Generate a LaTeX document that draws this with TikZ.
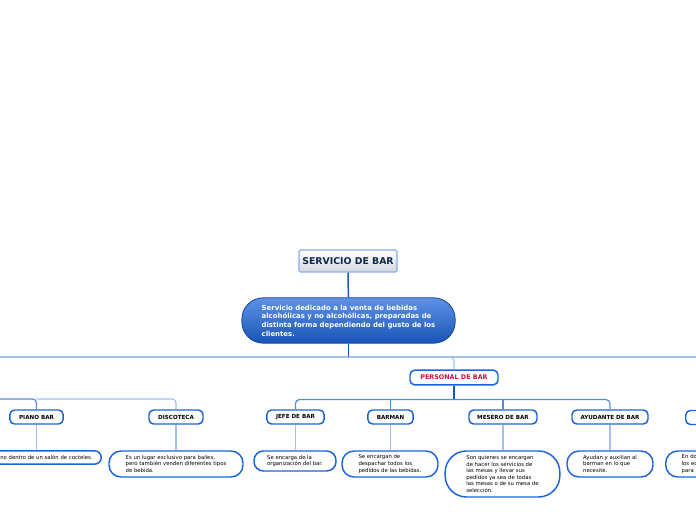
\documentclass[tikz,border=0pt]{standalone}
\usepackage{fontspec}
\setmainfont{DejaVu Sans}
\usepackage{tikz}
\usetikzlibrary{positioning}
\definecolor{mapblue}{RGB}{27,99,216}
\definecolor{mapdark}{RGB}{20,86,200}
\definecolor{maplight}{RGB}{160,192,238}
\definecolor{mapmid}{RGB}{80,140,225}
\definecolor{navy}{RGB}{15,40,75}
\definecolor{mapred}{RGB}{208,16,58}

\begin{document}
\begin{tikzpicture}[x=.75pt,y=-.75pt,
titlebox/.style={draw=maplight!80!mapblue,line width=.8pt,top color=white,bottom color=maplight!45!gray!40,text=navy,font=\fontsize{7}{8}\selectfont\bfseries,minimum width=73.5pt,minimum height=16.5pt,inner sep=1pt,rounded corners=1pt},
mainbox/.style={draw=mapdark!80!black,line width=.6pt,top color=mapblue!70!white,bottom color=mapblue!85!black,text=white,align=left,font=\fontsize{5.2}{6.5}\selectfont\bfseries,minimum width=160pt,minimum height=34pt,inner sep=1pt,rounded corners=16pt},
catbox/.style={draw=mapblue,line width=1.1pt,fill=white,font=\fontsize{4.2}{5}\selectfont\bfseries,minimum height=10.5pt,inner sep=1pt,rounded corners=3.5pt},
descbox/.style={draw=mapblue,line width=1.1pt,fill=white,align=left,font=\fontsize{4}{4.9}\selectfont,inner sep=2pt,rounded corners=7pt},
dark/.style={draw=mapdark,line width=1.1pt},
mid/.style={draw=mapmid,line width=.9pt,rounded corners=3pt},
light/.style={draw=maplight,line width=.8pt,rounded corners=3pt}]

\useasboundingbox (0,0) rectangle (696,520);
\clip (0,0) rectangle (696,520);

% centro del mapa
\node[titlebox] (servicio) at (348,261) {SERVICIO DE BAR};
\node[mainbox] (definicion) at (348.5,320.5) {Servicio dedicado a la venta de bebidas\\alcohólicas y no alcohólicas, preparadas de\\distinta forma dependiendo del gusto de los\\clientes.};
\draw[dark] (servicio) -- (definicion);

\coordinate (hub) at (348.5,357);
\coordinate (oeste) at (0,357);
\coordinate (este) at (696,357);

% personal de bar
\node[catbox,text=mapred,font=\fontsize{4.8}{5.5}\selectfont\bfseries,minimum width=66pt,minimum height=11pt] (personal) at (454,377.5) {PERSONAL DE BAR};
\node[catbox,minimum width=43pt] (jefe) at (295.5,417) {JEFE DE BAR};
\node[catbox,minimum width=34pt] (barman) at (390.5,417) {BARMAN};
\node[catbox,minimum width=51pt] (mesero) at (503,417) {MESERO DE BAR};
\node[catbox,minimum width=57pt] (ayudante) at (610,417) {AYUDANTE DE BAR};

\node[descbox,minimum width=61.5pt,minimum height=15pt] (jefetxt) at (295,461) {Se encarga de la\\organización del bar.};
\node[descbox,minimum width=72pt,minimum height=19.5pt,rounded corners=9pt] (barmantxt) at (390,464) {Se encargan de\\despachar todos los\\pedidos de las bebidas.};
\node[descbox,minimum width=86pt,minimum height=34.5pt,rounded corners=16pt] (meserotxt) at (502.5,474) {Son quienes se encargan\\de hacer los servicios de\\las mesas y llevar sus\\pedidos ya sea de todas\\las mesas o de su mesa de\\selección.};
\node[descbox,minimum width=64.5pt,minimum height=19.5pt,rounded corners=9pt] (ayudantetxt) at (610,464) {Ayudan y auxilian al\\barman en lo que\\necesite.};

% tipos de bar (rama izquierda)
\node[catbox,minimum width=40pt] (piano) at (36.5,417) {PIANO BAR};
\node[catbox,minimum width=40.5pt] (disco) at (176,417) {DISCOTECA};
\node[descbox,anchor=east,inner xsep=6.5pt,minimum height=10pt,rounded corners=5pt] (pianotxt) at (102,457.5) {no dentro de un salón de cocteles.};
\node[descbox,minimum width=100.5pt,minimum height=19.5pt,rounded corners=9pt] (discotxt) at (176,464) {Es un lugar exclusivo para bailes,\\pero también venden diferentes tipos\\de bebida.};
\coordinate (entrada) at (0,399);

% rama derecha (fuera del cuadro)
\node[catbox,anchor=west,minimum width=40pt] (otro) at (685,417.5) {};
\node[descbox,anchor=west,text width=60pt,inner xsep=12pt,minimum height=19.5pt,rounded corners=9pt] (otrotxt) at (665,464) {En do\\los ec\\para l};

% conectores
\draw[light] (oeste) -- (este);
\draw[dark] (definicion) -- (hub);
\draw[light] (hub) -| (personal.north);
\draw[dark] (personal.south) -- ++(0,14) coordinate (hub2);
\draw[mid] (jefe.north) |- (hub2) -| (ayudante.north);
\draw[mid] (barman.north) -- (barman.north |- hub2);
\draw[mid] (mesero.north) -- (mesero.north |- hub2);
\draw[mid] (entrada) -| (piano.north);
\draw[light] (piano.north |- entrada) -| (disco.north);
\foreach \a/\b in {piano/pianotxt,disco/discotxt,jefe/jefetxt,barman/barmantxt,mesero/meserotxt,ayudante/ayudantetxt}
  \draw[light] (\a.south) -- (\a.south |- \b.north);
\end{tikzpicture}
\end{document}
